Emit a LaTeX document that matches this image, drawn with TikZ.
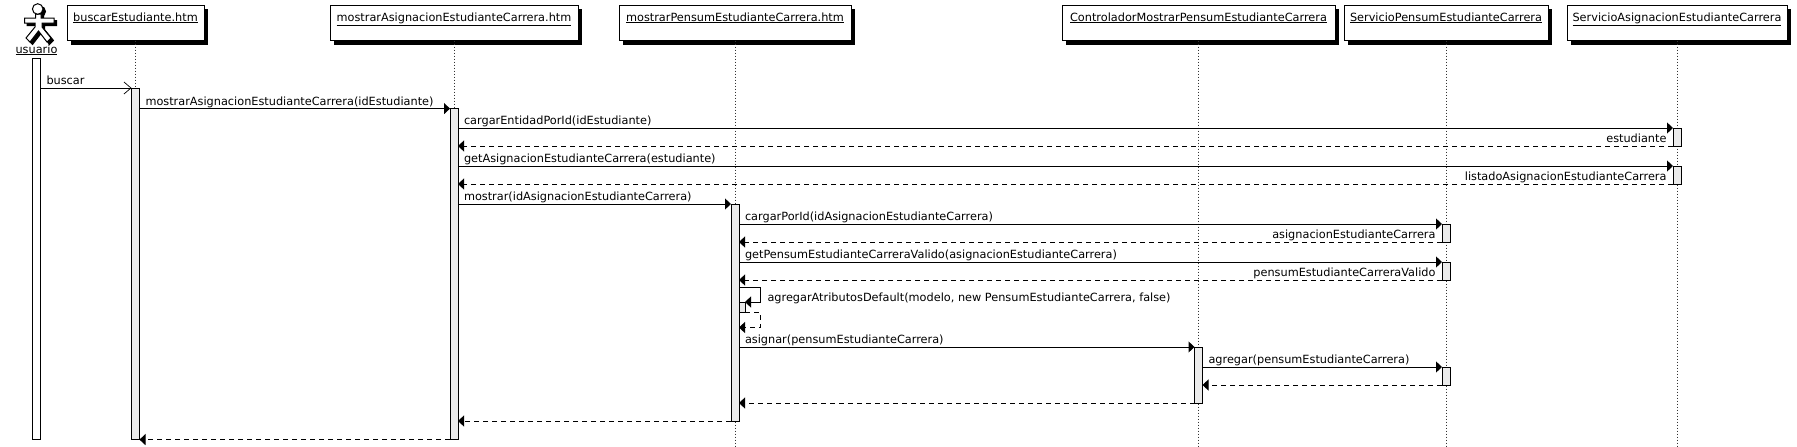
\documentclass[tikz,border=0pt]{standalone}
\usepackage{fontspec}
\setmainfont{DejaVu Sans}
\usetikzlibrary{positioning,arrows.meta,shadows}

\tikzset{
	lifehead/.style={draw, fill=white, inner xsep=0pt, inner ysep=2pt, outer sep=0pt, minimum height=35.6pt,
		text height=14pt, text depth=17.6pt, drop shadow={shadow xshift=4pt, shadow yshift=-4pt, fill=black, opacity=1}},
	actbar/.style={draw, fill=black!8, minimum width=8pt, inner sep=0pt, outer sep=0pt},
	lifeline/.style={dash pattern=on 1.5pt off 1.5pt, black!80},
	msg/.style={->},
	ret/.style={->, dash pattern=on 5pt off 4pt},
	sendlabel/.style={pos=0, anchor=south west, inner xsep=5.5pt, inner ysep=1pt, text height=9pt, text depth=2pt},
	retlabel/.style={pos=0, anchor=south east, inner xsep=6pt, inner ysep=1pt, text height=9pt, text depth=2pt},
}

\begin{document}
\begin{tikzpicture}[x=1pt, y=1pt, >={Triangle[length=6pt, width=11pt]}, node distance=20pt, font=\fontsize{11.3}{13}\selectfont, line width=1pt]
	\useasboundingbox (0,0) rectangle (1797,-447);

	% heads
	\node[lifehead, minimum width=137pt] (buscar) at (135.5,-22.8) {\underline{buscarEstudiante.htm}};
	\node[lifehead, minimum width=248pt, right=126pt of buscar] (asignacion) {\underline{mostrarAsignacionEstudianteCarrera.htm}};
	\node[lifehead, minimum width=232pt, right=41pt of asignacion] (pensum) {\underline{mostrarPensumEstudianteCarrera.htm}};
	\node[lifehead, minimum width=273pt, right=211pt of pensum] (controlador) {\underline{ControladorMostrarPensumEstudianteCarrera}};
	\node[lifehead, minimum width=204pt, right=9pt of controlador] (servPensum) {\underline{ServicioPensumEstudianteCarrera}};
	\node[lifehead, minimum width=220pt, right=19pt of servPensum] (servAsignacion) {\underline{ServicioAsignacionEstudianteCarrera}};
	\node[inner sep=0pt, outer sep=0pt, text height=9pt, text depth=3pt] (usuario) at (36.5,-50) {\underline{usuario}};

	% actor
	\foreach \dx/\dy/\col in {2.5/-2.5/black, 0/0/white} {
		\draw[fill=\col, shift={(\dx,\dy)}] (35.5,-14) -- (35.5,-18) -- (24.5,-18) -- (24.5,-23) -- (35,-23) -- (35,-27) -- (26,-38) -- (30,-42)
			-- (38.5,-31) -- (47,-42) -- (51,-38) -- (42,-27) -- (42,-23) -- (54,-23) -- (54,-18) -- (41,-18) -- (41,-14) -- cycle;
		\draw[fill=\col, shift={(\dx,\dy)}] (37.7,-9) circle (5.3);
	}

	% lifelines
	\coordinate (bottom) at (0,-447);
	\coordinate (last) at (0,-439);
	\draw[lifeline] (buscar.south) -- (buscar.south |- last);
	\draw[lifeline] (asignacion.south) -- (asignacion.south |- last);
	\draw[lifeline] (pensum.south) -- (pensum.south |- bottom);
	\draw[lifeline] (controlador.south) -- (controlador.south |- bottom);
	\draw[lifeline] (servPensum.south) -- (servPensum.south |- bottom);
	\draw[lifeline] (servAsignacion.south) -- (servAsignacion.south |- bottom);

	% activations
	\node[actbar, fill=white, minimum height=381pt, below=2pt of usuario] (barUsuario) {};
	\node[actbar, minimum height=351pt, below=47.4pt of buscar] (barBuscar) {};
	\node[actbar, minimum height=331pt, below=68pt of asignacion] (barAsignacion) {};
	\node[actbar, minimum height=217pt, below=163.4pt of pensum] (barPensum) {};
	\node[actbar, minimum height=56pt, below=306.4pt of controlador] (barControlador) {};
	\node[actbar, minimum height=18pt, below=87.4pt of servAsignacion] (barEstudiante) {};
	\node[actbar, minimum height=18pt, below=of barEstudiante] (barListado) {};
	\node[actbar, minimum height=18pt, below=183.4pt of servPensum] (barCargar) {};
	\node[actbar, minimum height=18pt, below=of barCargar] (barValido) {};
	\node[actbar, minimum height=18pt, below=87pt of barValido] (barAgregar) {};
	\node[actbar, minimum width=6pt, minimum height=10pt, below right=98pt and 0pt of barPensum.north east] (barSelf) {};

	% calls
	\draw[->, >={Straight Barb[length=7pt, width=12pt, line width=.7pt]}] (barUsuario.east |- barBuscar.north) -- node[sendlabel] {buscar} (barBuscar.north west);
	\draw[msg] (barBuscar.east |- barAsignacion.north) -- node[sendlabel] {mostrarAsignacionEstudianteCarrera(idEstudiante)} (barAsignacion.north west);
	\draw[msg] (barAsignacion.east |- barEstudiante.north) -- node[sendlabel] {cargarEntidadPorId(idEstudiante)} (barEstudiante.north west);
	\draw[ret] (barEstudiante.south west) -- node[retlabel] {estudiante} (barAsignacion.east |- barEstudiante.south);
	\draw[msg] (barAsignacion.east |- barListado.north) -- node[sendlabel] {getAsignacionEstudianteCarrera(estudiante)} (barListado.north west);
	\draw[ret] (barListado.south west) -- node[retlabel] {listadoAsignacionEstudianteCarrera} (barAsignacion.east |- barListado.south);
	\draw[msg] (barAsignacion.east |- barPensum.north) -- node[sendlabel] {mostrar(idAsignacionEstudianteCarrera)} (barPensum.north west);
	\draw[msg] (barPensum.east |- barCargar.north) -- node[sendlabel] {cargarPorId(idAsignacionEstudianteCarrera)} (barCargar.north west);
	\draw[ret] (barCargar.south west) -- node[retlabel] {asignacionEstudianteCarrera} (barPensum.east |- barCargar.south);
	\draw[msg] (barPensum.east |- barValido.north) -- node[sendlabel] {getPensumEstudianteCarreraValido(asignacionEstudianteCarrera)} (barValido.north west);
	\draw[ret] (barValido.south west) -- node[retlabel] {pensumEstudianteCarreraValido} (barPensum.east |- barValido.south);

	% self call
	\coordinate (selfTop) at (760,-287.5);
	\coordinate (selfBottom) at (760,-327.5);
	\draw[msg] (barPensum.east |- selfTop) -- (selfTop) |- (barSelf.north east);
	\draw[ret] (barSelf.south east) -| (selfBottom) -- (barPensum.east |- selfBottom);
	\node[inner sep=0pt, text height=9pt, text depth=3pt, yshift=3.5pt, right=7pt of selfTop |- barSelf.north] (selfLabel) {agregarAtributosDefault(modelo, new PensumEstudianteCarrera, false)};

	\draw[msg] (barPensum.east |- barControlador.north) -- node[sendlabel] {asignar(pensumEstudianteCarrera)} (barControlador.north west);
	\draw[msg] (barControlador.east |- barAgregar.north) -- node[sendlabel] {agregar(pensumEstudianteCarrera)} (barAgregar.north west);
	\draw[ret] (barAgregar.south west) -- (barControlador.east |- barAgregar.south);
	\draw[ret] (barControlador.south west) -- (barPensum.east |- barControlador.south);
	\draw[ret] (barPensum.south west) -- (barAsignacion.east |- barPensum.south);
	\draw[ret] (barAsignacion.south west) -- (barBuscar.east |- barAsignacion.south);
\end{tikzpicture}
\end{document}
